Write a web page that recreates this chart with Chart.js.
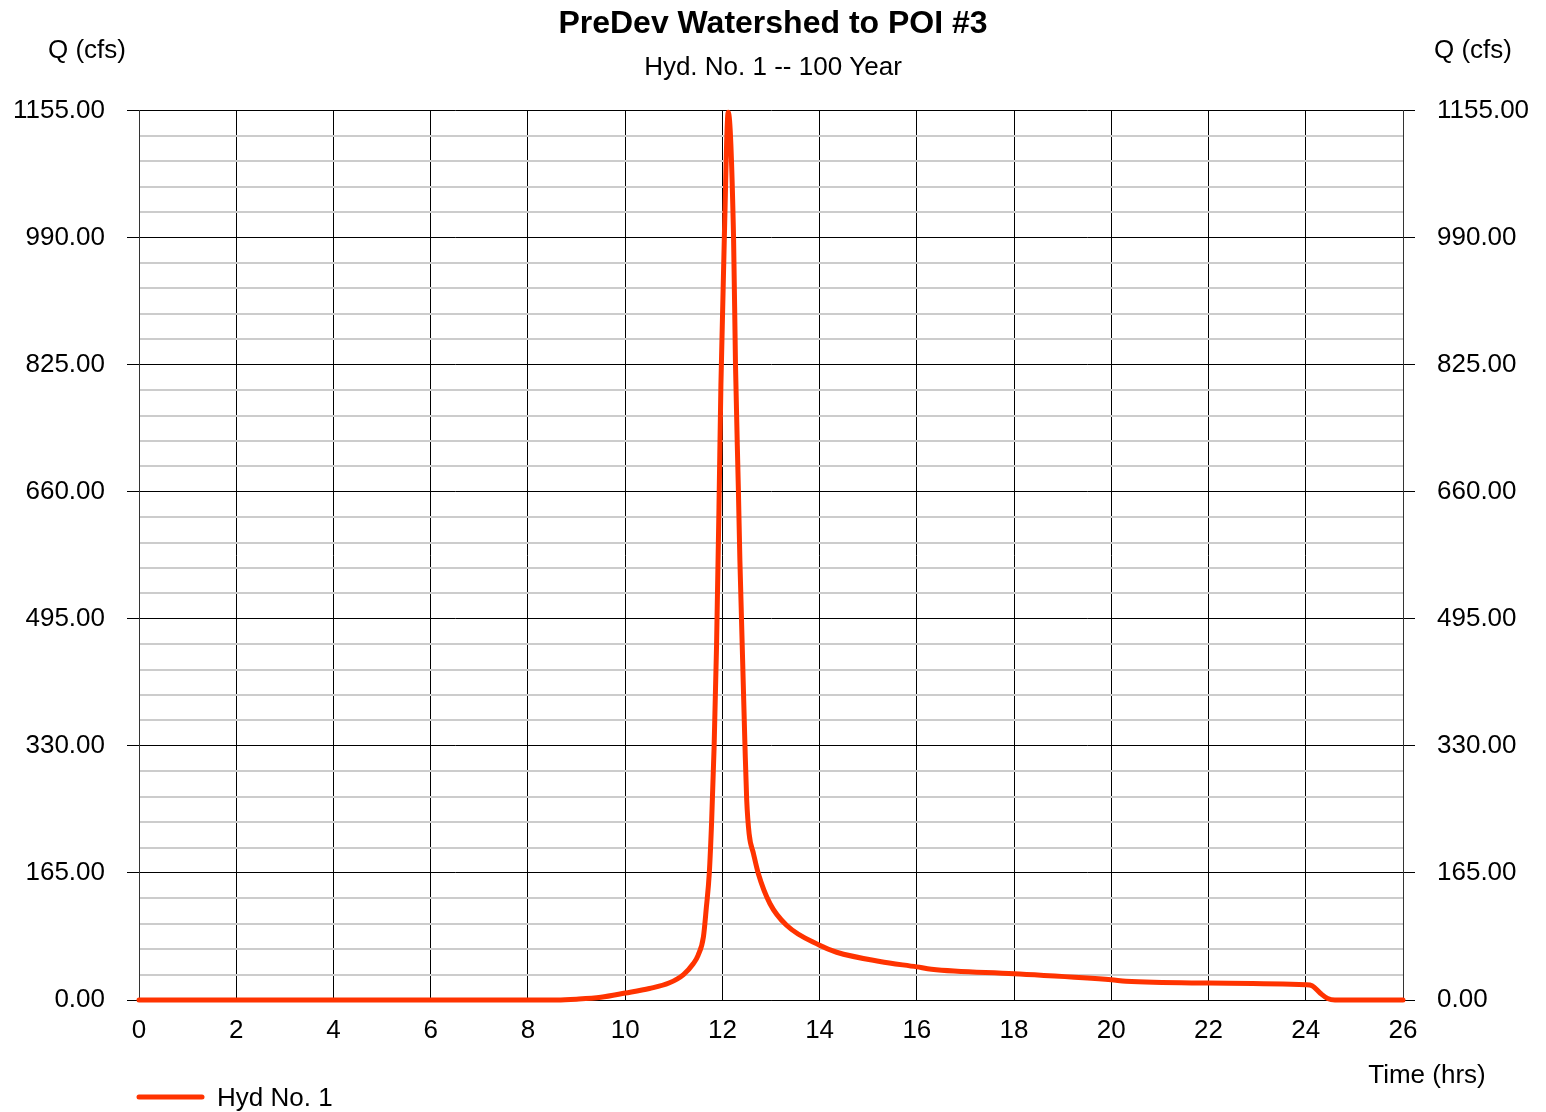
<!DOCTYPE html>
<html>
<head>
<meta charset="utf-8">
<script src="https://cdn.jsdelivr.net/npm/chart.js@4/dist/chart.umd.min.js"></script>
<style>
html,body{margin:0;padding:0;background:#fff;}
#wrap{width:1546px;height:1112px;position:relative;}
</style>
</head>
<body>
<div id="wrap"><canvas id="c" width="1546" height="1112"></canvas></div>
<script>
// ---- data ----
const chartTitle = "PreDev Watershed to POI #3";
const chartSubtitle = "Hyd. No. 1 -- 100 Year";
const seriesName = "Hyd No. 1";
const timeHrs = [0, 8.6, 9.0, 9.5, 10.0, 10.5, 10.9, 11.2, 11.4, 11.5, 11.61, 11.67, 11.73, 11.78, 11.83, 11.88, 11.93, 11.97, 12.04, 12.12, 12.23, 12.27, 12.33, 12.36, 12.465, 12.5, 12.55, 12.64, 12.74, 12.98, 13.32, 14.0, 14.35, 15.24, 16.0, 16.3, 18.0, 20.0, 20.3, 22.0, 24.0, 24.13, 24.3, 24.45, 24.6, 26.0];
const flowCfs = [0, 0, 1, 3.5, 9, 15, 22, 33, 47, 58, 82, 120, 164, 234, 329, 460, 640, 800, 990, 1153, 990, 824, 660, 571, 329, 260, 216, 190, 164, 125, 97, 71, 62, 50, 43, 40, 34, 26.4, 24.2, 22, 19.8, 18.5, 8.8, 2, 0, 0];
const xTicks = [0, 2, 4, 6, 8, 10, 12, 14, 16, 18, 20, 22, 24, 26];
const yMajorTicks = [0, 165, 330, 495, 660, 825, 990, 1155];
const yMinorStep = 33;

const FONT = '"Liberation Sans", Arial, sans-serif';
const LINE_COLOR = '#ff3300';

const points = timeHrs.map((t, i) => ({x: t, y: flowCfs[i]}));
const isMajor = v => yMajorTicks.some(m => Math.abs(m - v) < 1e-6);

const extraText = {
  id: 'extraText',
  afterDraw(chart) {
    const ctx = chart.ctx;
    ctx.save();
    ctx.fillStyle = '#000';
    ctx.font = '26px ' + FONT;
    ctx.textBaseline = 'middle';
    ctx.textAlign = 'center';
    ctx.fillText('Q (cfs)', 87, 51);
    ctx.fillText('Q (cfs)', 1473, 51);
    ctx.fillText('Time (hrs)', 1427, 1076);
    // legend
    ctx.strokeStyle = LINE_COLOR;
    ctx.lineWidth = 5;
    ctx.lineCap = 'round';
    ctx.beginPath();
    ctx.moveTo(139, 1097);
    ctx.lineTo(202, 1097);
    ctx.stroke();
    ctx.textAlign = 'left';
    ctx.fillText(seriesName, 217, 1099);
    ctx.restore();
  }
};

const yAxisBase = (pos) => ({
  type: 'linear',
  position: pos,
  min: 0,
  max: 1155,
  afterBuildTicks(scale) {
    const t = [];
    for (let v = 0; v <= 1155 + 1e-6; v += yMinorStep) t.push({value: v});
    scale.ticks = t;
  },
  afterFit(scale) { scale.width = pos === 'left' ? 139 : 143; },
  ticks: {
    color: '#000',
    font: {family: FONT, size: 26},
    padding: 22,
    autoSkip: false,
    callback: (v) => isMajor(v) ? Number(v).toFixed(2) : ''
  },
  border: {display: true, color: '#333', width: 1},
  grid: {
    drawOnChartArea: pos === 'left',
    color: (c) => isMajor(c.tick.value) ? '#000' : '#cccccc',
    lineWidth: (c) => isMajor(c.tick.value) ? 1 : 2,
    tickColor: (c) => isMajor(c.tick.value) ? '#000' : 'rgba(0,0,0,0)',
    tickWidth: 1,
    tickLength: 12
  }
});

new Chart(document.getElementById('c'), {
  type: 'line',
  data: {
    datasets: [{
      label: seriesName,
      data: points,
      borderColor: LINE_COLOR,
      backgroundColor: LINE_COLOR,
      borderWidth: 5,
      pointRadius: 0,
      cubicInterpolationMode: 'monotone',
      borderCapStyle: 'round',
      borderJoinStyle: 'round',
      clip: false,
      yAxisID: 'y'
    }]
  },
  options: {
    responsive: false,
    animation: false,
    layout: {padding: 0},
    plugins: {
      legend: {display: false},
      tooltip: {enabled: false},
      title: {
        display: true,
        text: chartTitle,
        color: '#000',
        font: {family: FONT, size: 32, weight: 'bold'},
        padding: {top: 5, bottom: 9}
      },
      subtitle: {
        display: true,
        text: chartSubtitle,
        color: '#000',
        font: {family: FONT, size: 26},
        padding: {top: 0, bottom: 27}
      }
    },
    scales: {
      x: {
        type: 'linear',
        min: 0,
        max: 26,
        afterBuildTicks(scale) { scale.ticks = xTicks.map(v => ({value: v})); },
        afterFit(scale) { scale.height = 112; },
        ticks: {
          color: '#000',
          font: {family: FONT, size: 26},
          padding: 15,
          autoSkip: false,
          maxRotation: 0
        },
        border: {display: true, color: '#000', width: 1},
        grid: {color: '#000', lineWidth: 1, drawTicks: false}
      },
      y: yAxisBase('left'),
      y2: yAxisBase('right')
    }
  },
  plugins: [extraText]
});
</script>
</body>
</html>
